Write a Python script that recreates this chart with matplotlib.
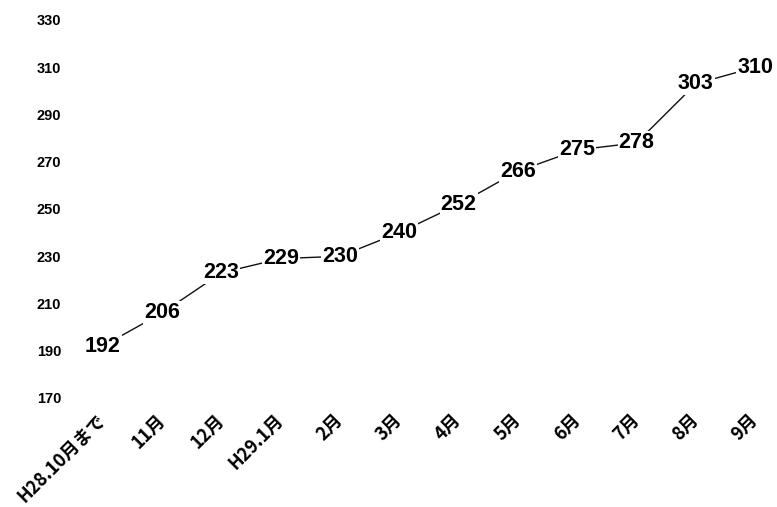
import matplotlib
matplotlib.use("Agg")
import matplotlib.pyplot as plt

plt.rcParams['font.family'] = ['Liberation Sans', 'Noto Sans CJK JP', 'DejaVu Sans']

months = ["H28.10月まで", "11月", "12月", "H29.1月", "2月", "3月",
          "4月", "5月", "6月", "7月", "8月", "9月"]
counts = [192, 206, 223, 229, 230, 240, 252, 266, 275, 278, 303, 310]
yticks = [170, 190, 210, 230, 250, 270, 290, 310, 330]

fig = plt.figure(figsize=(7.77, 5.07), dpi=100)
ax = fig.add_axes([75 / 777, 109 / 507, 695 / 777, 378 / 507])

x = list(range(len(counts)))
ax.plot(x, counts, color="#111111", lw=1.0, zorder=1)

# value labels sit on the points and hide the line underneath
for xi, v in zip(x, counts):
    ax.text(xi, v, str(v), ha="center", va="center", fontsize=15.5,
            fontweight="bold", zorder=3,
            bbox=dict(boxstyle="square,pad=0.05", fc="white", ec="none"))

ax.set_xlim(-0.47, 11.25)
ax.set_ylim(170, 330)
ax.set_yticks(yticks)
ax.set_yticklabels([str(t) for t in yticks], fontsize=10.5, fontweight="bold")
ax.set_xticks(x)
ax.set_xticklabels(months, rotation=45, ha="right", va="center",
                   rotation_mode="anchor", fontsize=13, fontweight="bold",
                   family=['Noto Sans CJK JP', 'DejaVu Sans'])
ax.tick_params(axis="y", length=0, pad=10)
ax.tick_params(axis="x", length=0, pad=14)
for s in ax.spines.values():
    s.set_visible(False)

fig.savefig("out.png", dpi=100)
